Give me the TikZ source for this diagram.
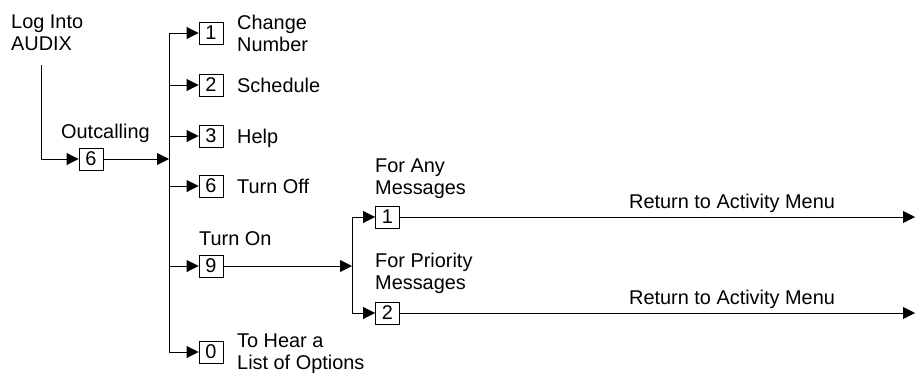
\documentclass[tikz,border=0pt]{standalone}
\usepackage{fontspec}
\setmainfont{Liberation Sans}
\usetikzlibrary{arrows.meta}
\begin{document}
\begin{tikzpicture}[x=1pt,y=-1pt,
  every node/.style={font=\fontsize{19.9}{22}\selectfont, inner sep=0pt},
  keybox/.style={draw, line width=0.9pt, minimum width=24pt, minimum height=22pt},
  lbl/.style={anchor=base west},
  mlbl/.style={anchor=north west, align=left},
  arr/.style={line width=0.9pt, -{Triangle[length=12pt,width=12pt]}},
  ln/.style={line width=0.9pt}]
\useasboundingbox (0,0) rectangle (915,373);
% keys
\node[keybox] (b6) at (91,159) {6};
\node[keybox] (c1) at (211,33) {1};
\node[keybox] (c2) at (211,85) {2};
\node[keybox] (c3) at (211,136) {3};
\node[keybox] (c6) at (211,186) {6};
\node[keybox] (c9) at (211,266) {9};
\node[keybox] (c0) at (211,352) {0};
\node[keybox] (d1) at (387.5,217) {1};
\node[keybox] (d2) at (387.5,313) {2};
% labels
\node[mlbl] (login) at (11,15) {Log Into\\AUDIX};
\node[lbl] (lout) at (61,138) {Outcalling};
\node[mlbl] (lchg) at (237,15) {Change\\Number};
\node[lbl] (lsch) at (237,92) {Schedule};
\node[lbl] (lhlp) at (237,143) {Help};
\node[lbl] (loff) at (237,193) {Turn Off};
\node[lbl] (lon) at (199,245) {Turn On};
\node[mlbl] (lhear) at (237,334) {To Hear a\\List of Options};
\node[mlbl] (lany) at (375,159) {For Any\\Messages};
\node[mlbl] (lpri) at (375,253) {For Priority\\Messages};
\node[lbl] (lret1) at (629,208) {Return to Activity Menu};
\node[lbl] (lret2) at (629,304) {Return to Activity Menu};
% coordinates
\coordinate (lg) at (41,65);
\coordinate (t1) at (169,159);
\coordinate (t2) at (352,266);
\coordinate (e1) at (915,217);
\coordinate (e2) at (915,313);
% connectors
\draw[arr] (lg) |- (b6.west);
\draw[arr] (b6.east) -- (t1);
\draw[ln] (t1|-c1) -- (t1|-c0);
\foreach \n in {c1,c2,c3,c6,c9,c0} {\draw[arr] (t1|-\n) -- (\n.west);}
\draw[arr] (c9.east) -- (t2);
\draw[ln] (t2|-d1) -- (t2|-d2);
\draw[arr] (t2|-d1) -- (d1.west);
\draw[arr] (t2|-d2) -- (d2.west);
\draw[arr] (d1.east) -- (e1);
\draw[arr] (d2.east) -- (e2);
\end{tikzpicture}
\end{document}
